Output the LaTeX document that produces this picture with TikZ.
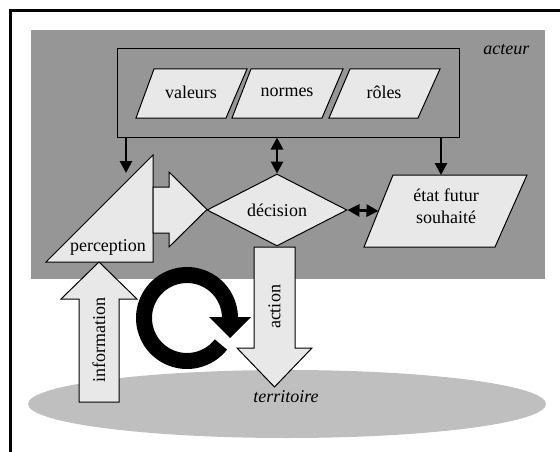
\documentclass[tikz,border=0pt]{standalone}
\usepackage{fontspec}
\setmainfont{Liberation Serif}
\usetikzlibrary{arrows.meta,shapes.geometric}
\definecolor{actgray}{gray}{0.59}
\definecolor{boxfill}{gray}{0.91}
\definecolor{terrgray}{gray}{0.75}
\tikzset{
  pbox/.style={draw, fill=boxfill, line width=1pt},
  tarrow/.style={line width=2.7pt, -{Triangle[width=12pt,length=12pt]}},
  darrow/.style={line width=2.7pt, {Triangle[width=12pt,length=12pt]}-{Triangle[width=12pt,length=12pt]}},
  blockarrow/.style={draw, fill=boxfill, line width=1pt},
}
\begin{document}
\begin{tikzpicture}[x=1pt,y=-1pt,every node/.style={font=\fontsize{18}{22}\selectfont}]
\useasboundingbox (0,0) rectangle (560,452);
\draw[line width=2.4pt] (560,10.5) -- (10.5,10.5) -- (10.5,452);
\fill[terrgray] (287,404) ellipse [x radius=259, y radius=34];
\fill[actgray] (31,30) rectangle (545,279);
\node[anchor=east] (acteur) at (533,50) {\itshape acteur};

\node[draw, line width=1pt, minimum width=342, minimum height=88, inner sep=0pt] (sysbox) at (288.5,93) {};
\draw[pbox] (136,118) -- (154,69) -- (247,69) -- (226,118) -- cycle;
\draw[pbox] (232,118) -- (251,69) -- (343,69) -- (322,118) -- cycle;
\draw[pbox] (329,118) -- (350,69) -- (440,69) -- (418,118) -- cycle;
\node (valeurs) at (191,92) {valeurs};
\node (normes) at (287,92) {normes};
\node (roles) at (384,92) {rôles};

\coordinate (pin) at (126,173);
\coordinate (ein) at (441,175);
\draw[tarrow] (sysbox.south -| pin) -- (pin);
\draw[tarrow] (sysbox.south -| ein) -- (ein);

\draw[pbox] (153,155) -- (153,262) -- (46,262) -- cycle;
\node (perc) at (108,247) {perception};
\draw[blockarrow] (153,187) -- (169,187) -- (169,172) -- (207,209.5) -- (169,247) -- (169,233) -- (153,233) -- cycle;

\node[draw, fill=boxfill, line width=1pt, diamond, aspect=2, minimum width=140, minimum height=72, inner sep=0pt] (dec) at (277,210) {décision};
\draw[pbox] (364,247) -- (393,175) -- (527,175) -- (495,247) -- cycle;
\coordinate (etatw) at (378.5,211);
\node[align=center] (etat) at (446,206) {état futur\\souhaité};
\draw[darrow] (sysbox.south -| dec.north) -- (dec.north);
\draw[darrow] (dec.east) -- (etatw);

\draw[blockarrow] (254,247) -- (295,247) -- (295,348) -- (312,348) -- (274.5,387) -- (237,348) -- (254,348) -- cycle;
\node[rotate=90] (action) at (274.5,307) {action};
\draw[blockarrow] (79,402) -- (79,299) -- (61,299) -- (99,262) -- (137,299) -- (119,299) -- (119,402) -- cycle;
\node[rotate=90] (info) at (99,340) {information};

\draw[line width=16pt] plot[domain=38:360, samples=80] ({187+43*cos(\x)}, {318+43*sin(\x)});
\fill (209,317) -- (251,317) -- (230,338) -- cycle;
\node (terr) at (286,397) {\itshape territoire};
\end{tikzpicture}
\end{document}
